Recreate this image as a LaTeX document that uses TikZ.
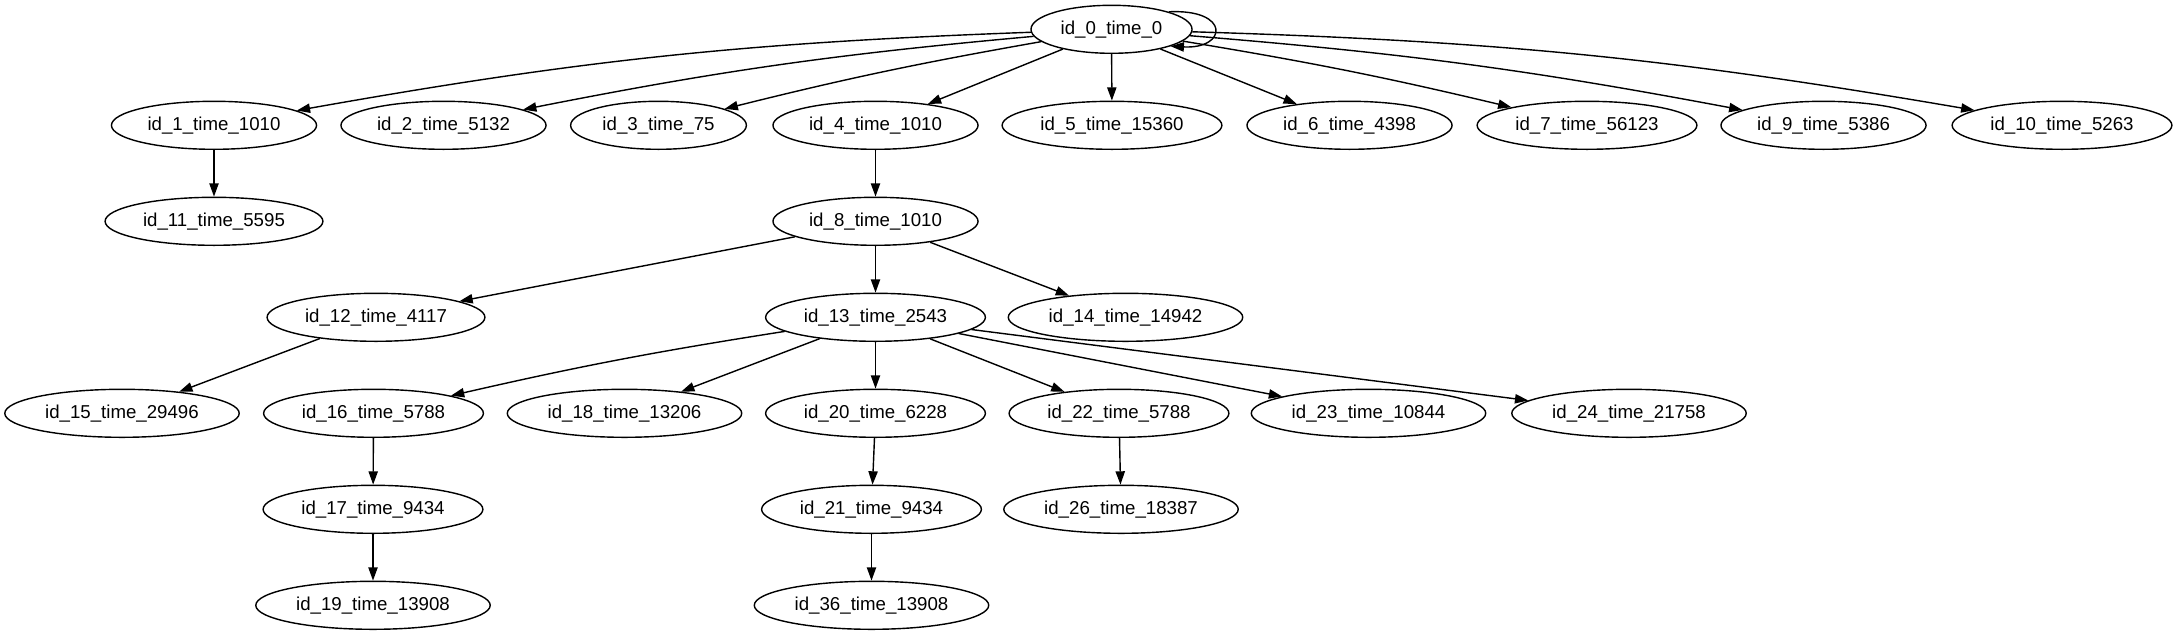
\documentclass[tikz,border=0pt]{standalone}
\usepackage{fontspec}
\setmainfont{Liberation Sans}
\usepackage{tikz}
\usetikzlibrary{shapes.geometric, arrows.meta, positioning}

\begin{document}
\begin{tikzpicture}[every node/.style={ellipse, draw, line width=0.4pt, inner xsep=0.061cm, inner ysep=0.5pt, minimum height=0.48cm, font=\fontsize{5.31}{6.4}\selectfont}, link/.style={line width=0.4pt, -{Triangle[length=0.133cm, width=0.093cm]}}]
\useasboundingbox (0,0) rectangle (21.77,-6.35);
\node (n0) at (11.115,-0.293) {id\_0\_time\_0};
\node (n1) at (2.14,-1.253) {id\_1\_time\_1010};
\node (n2) at (4.435,-1.253) {id\_2\_time\_5132};
\node (n3) at (6.585,-1.253) {id\_3\_time\_75};
\node (n4) at (8.755,-1.253) {id\_4\_time\_1010};
\node (n5) at (11.12,-1.253) {id\_5\_time\_15360};
\node (n6) at (13.495,-1.253) {id\_6\_time\_4398};
\node (n7) at (15.87,-1.253) {id\_7\_time\_56123};
\node (n9) at (18.235,-1.253) {id\_9\_time\_5386};
\node (n10) at (20.62,-1.253) {id\_10\_time\_5263};
\node (n11) at (2.14,-2.213) {id\_11\_time\_5595};
\node (n8) at (8.755,-2.213) {id\_8\_time\_1010};
\node (n12) at (3.76,-3.173) {id\_12\_time\_4117};
\node (n13) at (8.755,-3.173) {id\_13\_time\_2543};
\node (n14) at (11.255,-3.173) {id\_14\_time\_14942};
\node (n15) at (1.22,-4.133) {id\_15\_time\_29496};
\node (n16) at (3.735,-4.133) {id\_16\_time\_5788};
\node (n18) at (6.245,-4.133) {id\_18\_time\_13206};
\node (n20) at (8.755,-4.133) {id\_20\_time\_6228};
\node (n22) at (11.19,-4.133) {id\_22\_time\_5788};
\node (n23) at (13.685,-4.133) {id\_23\_time\_10844};
\node (n24) at (16.29,-4.133) {id\_24\_time\_21758};
\node (n17) at (3.73,-5.093) {id\_17\_time\_9434};
\node (n21) at (8.715,-5.093) {id\_21\_time\_9434};
\node (n26) at (11.21,-5.093) {id\_26\_time\_18387};
\node (n19) at (3.73,-6.053) {id\_19\_time\_13908};
\node (n36) at (8.715,-6.053) {id\_36\_time\_13908};
\draw[link] (n0.17) .. controls +(0.62,0.03) and +(0.57,-0.03) .. (n0.-16);
\draw[link] (n0) to[bend right=4] (n1);
\draw[link] (n0) to[bend right=3] (n2);
\draw[link] (n0) to[bend right=2] (n3);
\draw[link] (n0) -- (n4);
\draw[link] (n0) -- (n5);
\draw[link] (n0) -- (n6);
\draw[link] (n0) to[bend left=2] (n7);
\draw[link] (n0) to[bend left=3] (n9);
\draw[link] (n0) to[bend left=4] (n10);
\draw[link] (n1) -- (n11);
\draw[link] (n4) -- (n8);
\draw[link] (n8) -- (n12);
\draw[link] (n8) -- (n13);
\draw[link] (n8) -- (n14);
\draw[link] (n12) -- (n15);
\draw[link] (n13) to[bend right=2] (n16);
\draw[link] (n13) -- (n18);
\draw[link] (n13) -- (n20);
\draw[link] (n13) -- (n22);
\draw[link] (n13) -- (n23);
\draw[link] (n13) -- (n24);
\draw[link] (n16) -- (n17);
\draw[link] (n17) -- (n19);
\draw[link] (n20) -- (n21);
\draw[link] (n21) -- (n36);
\draw[link] (n22) -- (n26);
\end{tikzpicture}
\end{document}
